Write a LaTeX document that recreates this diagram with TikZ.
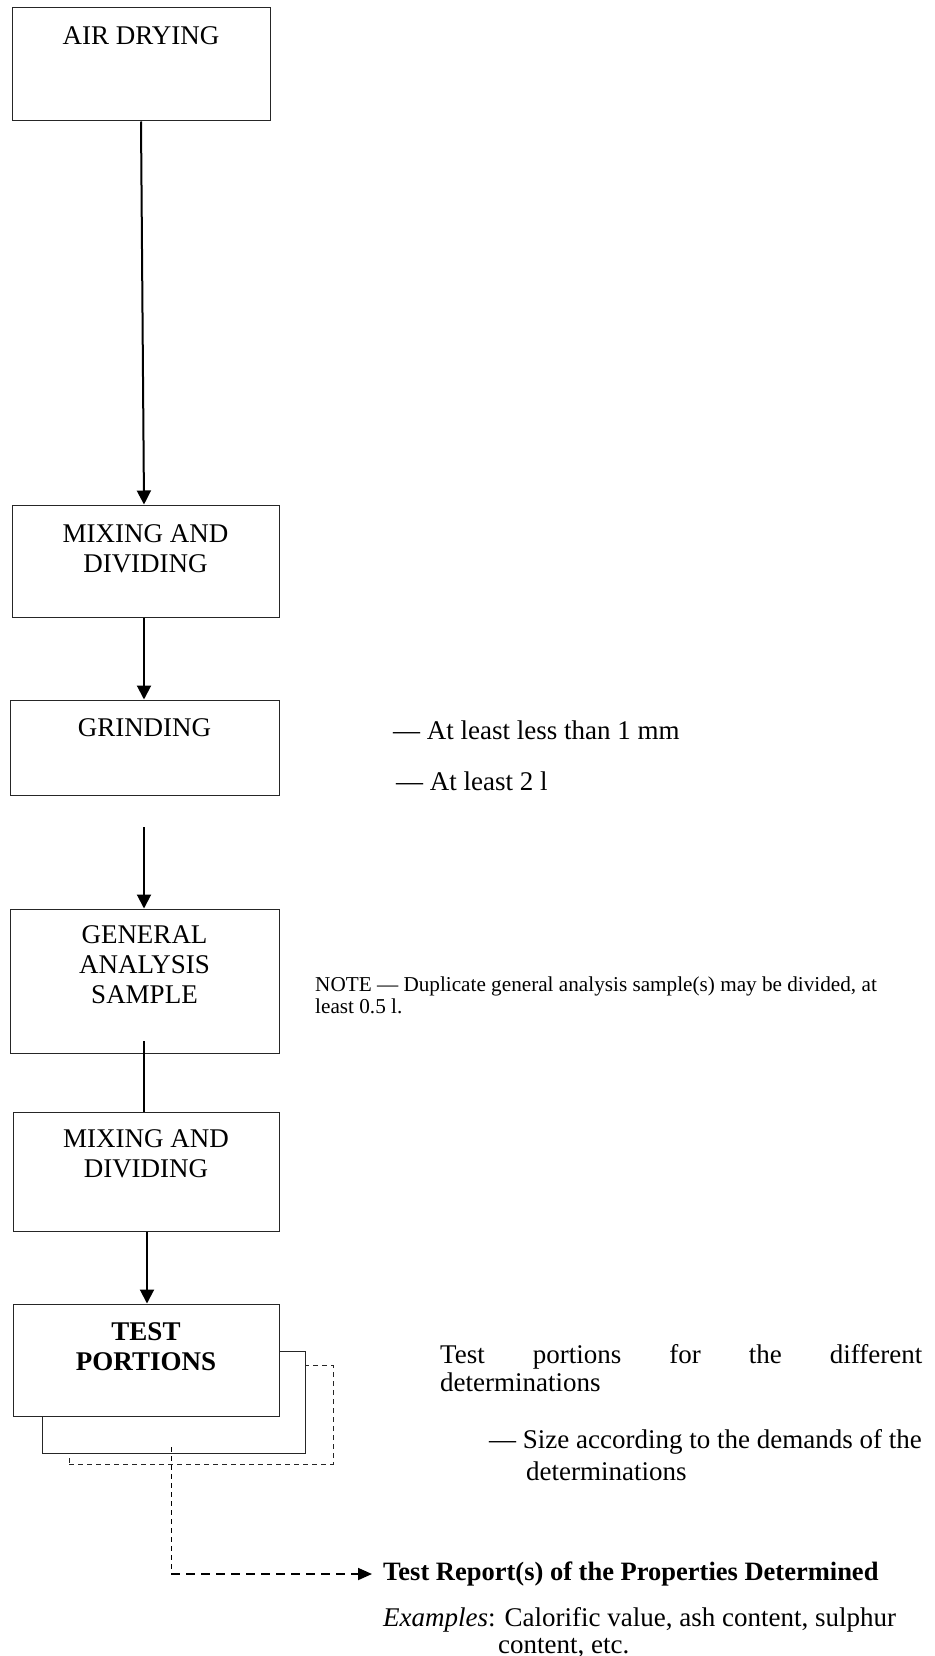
\documentclass[tikz,border=0pt]{standalone}
\usepackage{fontspec}
\setmainfont{Liberation Serif}
\usetikzlibrary{arrows.meta}
\begin{document}
\begin{tikzpicture}[x=1pt,y=-1pt]
\tikzset{
 flowbox/.style={draw=black!85, line width=1pt, fill=white, rectangle, inner sep=0pt},
 boxlab/.style={anchor=north, inner sep=0pt, align=center, font=\fontsize{27}{30}\selectfont},
 flowarrow/.style={line width=2pt, -{Triangle[length=14pt,width=14pt]}},
 plainline/.style={line width=2pt},
 sidetext/.style={inner sep=0pt, font=\fontsize{27}{30}\selectfont},
 thindash/.style={line width=0.9pt, dash pattern=on 5pt off 4pt},
 thickdash/.style={line width=1.8pt, dash pattern=on 9pt off 6pt},
}
\useasboundingbox (0,0) rectangle (934,1656);

% boxes
\node[flowbox, minimum width=258pt, minimum height=113pt,
  label={[boxlab, yshift=-19pt]north:AIR DRYING}] (air) at (141,64.5) {};
\node[flowbox, minimum width=267pt, minimum height=112pt,
  label={[boxlab, yshift=-20pt]north:{MIXING AND\\DIVIDING}}] (mix1) at (145.5,561) {};
\node[flowbox, minimum width=269pt, minimum height=95pt,
  label={[boxlab, yshift=-19pt]north:GRINDING}] (grind) at (144.5,747.5) {};
\node[flowbox, minimum width=269pt, minimum height=144pt,
  label={[boxlab, yshift=-17pt]north:{GENERAL\\ANALYSIS\\SAMPLE}}] (gas) at (144.5,981) {};
\node[flowbox, minimum width=266pt, minimum height=119pt,
  label={[boxlab, yshift=-18pt]north:{MIXING AND\\DIVIDING}}] (mix2) at (146,1171.5) {};

% stacked test portion boxes
\node[draw=black!85, thindash, minimum width=264pt, minimum height=99pt, inner sep=0pt] (dashbox) at (201,1414.5) {};
\node[flowbox, minimum width=263pt, minimum height=102pt] (backbox) at (173.5,1402) {};
\node[flowbox, minimum width=266pt, minimum height=112pt,
  label={[boxlab, yshift=-19pt, font=\fontsize{27}{30}\selectfont\bfseries]north:{TEST\\PORTIONS}}] (test) at (146,1360) {};

% connectors
\draw[flowarrow] (air.south) -- ([xshift=-1.5pt]mix1.north);
\draw[flowarrow] ([xshift=-1.5pt]mix1.south) -- ([xshift=-1.5pt]mix1.south |- grind.north);
\coordinate (g3) at (144,827);
\draw[flowarrow] (g3) -- (g3 |- gas.north);
\coordinate (g4) at (144,1041);
\draw[plainline] (g4) -- (g4 |- mix2.north);
\draw[flowarrow] ([xshift=1pt]mix2.south) -- ([xshift=1pt]test.north);

% side texts
\node[sidetext, anchor=base west] (t1) at (393,739) {— At least less than 1 mm};
\node[sidetext, anchor=base west] (t2) at (396,790) {— At least 2 l};
\node[inner sep=0pt, anchor=north west, align=left, font=\fontsize{21.2}{22}\selectfont] (note) at (315,977)
  {NOTE — Duplicate general analysis sample(s) may be divided, at\\least 0.5 l.};
\node[sidetext, anchor=north west, align=left, font=\fontsize{27}{28}\selectfont] (tp) at (440,1344)
  {\hbox to 482pt{Test\hfill portions\hfill for\hfill the\hfill different}\\determinations};
\node[sidetext, anchor=base west, align=left, font=\fontsize{27}{32}\selectfont] (size) at (489,1480)
  {— Size according to the demands of the\\\hspace*{37pt}determinations};
\node[sidetext, anchor=west, font=\fontsize{26.5}{30}\selectfont\bfseries] (report) at (383,1574)
  {Test Report(s) of the Properties Determined};
\node[sidetext, anchor=base west, align=left, font=\fontsize{27}{27}\selectfont] (examples) at (383,1653)
  {\textit{Examples}: Calorific value, ash content, sulphur\\\hspace*{115pt}content, etc.};

% dashed connector to report
\coordinate (d0) at (171,1447);
\draw[thindash] (d0) -- (d0 |- report.west);
\draw[thickdash, -{Triangle[length=14pt,width=12pt]}] (d0 |- report.west) -- ([xshift=-11pt]report.west);
\end{tikzpicture}
\end{document}
